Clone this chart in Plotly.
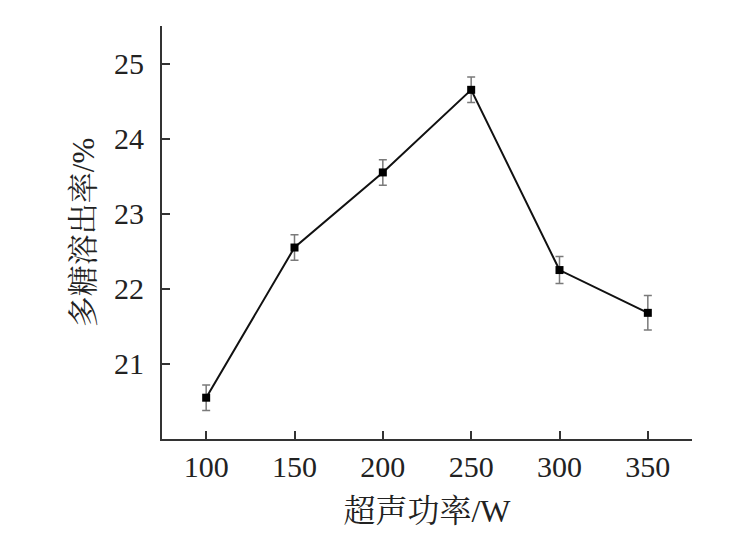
import plotly.graph_objects as go

power = [100, 150, 200, 250, 300, 350]
yield_pct = [20.55, 22.55, 23.55, 24.65, 22.25, 21.68]
err = [0.17, 0.17, 0.17, 0.17, 0.18, 0.23]
x_ticks = [100, 150, 200, 250, 300, 350]
y_ticks = [21, 22, 23, 24, 25]

FONT = "Liberation Serif, Times New Roman, Noto Serif CJK SC, Noto Sans CJK SC, serif"

fig = go.Figure()
fig.add_trace(go.Scatter(
    x=power, y=yield_pct,
    mode="lines+markers",
    line=dict(color="#111111", width=2),
    marker=dict(symbol="square", size=8, color="#000000"),
    error_y=dict(type="data", array=err, visible=True, color="#7a7a7a", thickness=1.5, width=4),
    showlegend=False,
))

fig.update_layout(
    width=732, height=549,
    paper_bgcolor="white", plot_bgcolor="white",
    margin=dict(l=154, r=48, t=18, b=118, autoexpand=False),
    font=dict(family=FONT, size=26, color="#222222"),
    xaxis=dict(
        range=[75, 375], tickvals=x_ticks, ticks="inside", ticklen=8, tickwidth=2,
        tickcolor="#333333", showline=True, linecolor="#333333", linewidth=2,
        showgrid=False, zeroline=False, mirror=False, automargin=False,
        tickfont=dict(size=30, family=FONT),
        title=dict(text="超声功率/W", font=dict(size=32, family=FONT), standoff=18),
    ),
    yaxis=dict(
        range=[20, 25.5], tickvals=y_ticks, ticks="inside", ticklen=8, tickwidth=2,
        tickcolor="#333333", showline=True, linecolor="#333333", linewidth=2,
        showgrid=False, zeroline=False, mirror=False, automargin=False,
        ticklabelstandoff=10,
        tickfont=dict(size=30, family=FONT),
        title=dict(text="多糖溶出率/%", font=dict(size=31, family=FONT), standoff=10),
    ),
)

fig.write_html("out.html")
